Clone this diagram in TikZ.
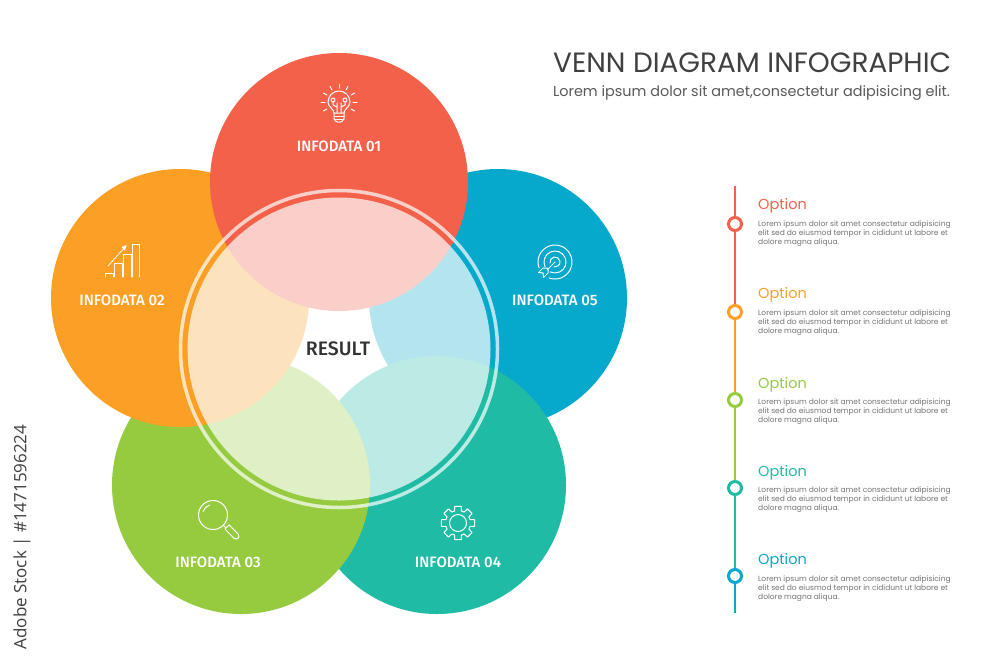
\documentclass[tikz,border=0pt]{standalone}
\usepackage{fontspec}
\setmainfont{Poppins}
\newfontfamily\labelfont[UprightFont=* Medium]{Fira Sans}
\newfontfamily\creditfont{Open Sans}
\usepackage{xcolor}
\usetikzlibrary{calc}
\definecolor{redc}{HTML}{F4614A}
\definecolor{orangec}{HTML}{FB9F25}
\definecolor{greenc}{HTML}{96CB40}
\definecolor{tealc}{HTML}{20BBA5}
\definecolor{bluec}{HTML}{06A8CC}
\tikzstyle{petal}=[
  circle,inner sep=0pt,outer sep=0pt,minimum size=258pt
]
\tikzstyle{info}=[
  text=white,inner sep=0pt,font=\labelfont\fontsize{15}{15}\selectfont
]
\tikzstyle{icon}=[
  draw=white,line width=1pt,line cap=round,line join=round
]
\tikzstyle{stop}=[
  circle,draw,fill=white,line width=3pt,inner sep=0pt,minimum size=13pt
]
\tikzstyle{optionname}=[
  anchor=west,inner sep=0pt,font=\fontsize{14.5}{15}\selectfont
]
\tikzstyle{optiontext}=[
  anchor=north west,inner sep=0pt,text=black!55,align=left,font=\fontsize{7.5}{9}\selectfont
]
\begin{document}
\begin{tikzpicture}[x=1pt,y=-1pt]
  \useasboundingbox (0,0) rectangle (1000,667);
  \fill [white] (0,0) rectangle (1000,667);
  % petals, last one on top
  \node (blue) at (498,298) [petal,fill=bluec] {};
  \node (teal) at (437,485) [petal,fill=tealc] {};
  \node (green) at (241,485) [petal,fill=greenc] {};
  \node (orange) at (180,298) [petal,fill=orangec] {};
  \node (red) at (339,182) [petal,fill=redc] {};
  % middle disc and ring
  \node (disc) at (339,349) [circle,fill=white,fill opacity=0.7,inner sep=0pt,outer sep=0pt,minimum size=303pt] {};
  \node (ring) at (339,349) [circle,draw=white,draw opacity=0.7,line width=3.5pt,inner sep=0pt,minimum size=317pt] {};
  \node (result) at (338,349) [inner sep=0pt,text=black!80,font=\labelfont\fontsize{19.5}{20}\selectfont] {RESULT};
  % labels
  \node (info1) at (339,146) [info] {INFODATA 01};
  \node (info2) at (122,300) [info] {INFODATA 02};
  \node (info3) at (218,562) [info] {INFODATA 03};
  \node (info4) at (458,562) [info] {INFODATA 04};
  \node (info5) at (555,300) [info] {INFODATA 05};
  % bulb
  \begin{scope}[shift={(339,103)}]
    \draw [icon] (-5,10) .. controls (-5,6) and (-11,4) .. (-11,-1) arc (180:360:11) .. controls (11,4) and (5,6) .. (5,10) -- cycle;
    \draw [icon,rounded corners=1pt] (-5,10) -- (-5,16) -- (-2.5,19) -- (2.5,19) -- (5,16) -- (5,10);
    \draw [icon] (-5,13) -- (5,13) (-5,16) -- (5,16);
    \draw [icon] (-2,10) -- (-2,0) (2,10) -- (2,0) (-6,-1) -- (-6,2) -- (-2,4) (6,-1) -- (6,2) -- (2,4);
    \draw [icon] (-6,-3) circle (2) (6,-3) circle (2);
    \foreach \a in {-150,-120,-90,-60,-30,0,30,180,150} {
      \draw [icon] (0,-1) +(\a:14) -- +(\a:18);
    }
  \end{scope}
  % chart
  \draw [icon,line width=0.8pt] (105,277) -- (105,273) -- (113,273) -- (113,277)
    (114,277) -- (114,263) -- (122,263) -- (122,277)
    (123,277) -- (123,254) -- (131,254) -- (131,277)
    (132,277) -- (132,244) -- (139,244) -- (139,277);
  \draw [icon,line width=0.8pt] (108,266) -- (126,246);
  \fill [white] (126.5,245) -- (121.5,247) -- (125,250.5) -- cycle;
  % magnifier
  \draw [icon] (213,515) circle (14.5);
  \draw [icon] (213,515) +(200:10.5) arc (200:250:10.5);
  \draw [icon] (223.3,525.3) -- (225.5,527.5);
  \draw [icon] (229.1,524.9) -- (238.1,533.9) arc (-45:135:3) -- (224.9,529.1) -- cycle;
  % gear
  \draw [icon] (458,523) circle (8.5);
  \draw [icon] ($(458,523)+(-11:17)$)
    \foreach \a in {0,45,...,315} {
      -- ($(458,523)+(\a-11:17)$) -- ($(458,523)+(\a+11:17)$) -- ($(458,523)+(\a+16:12.5)$) -- ($(458,523)+(\a+29:12.5)$)
    } -- cycle;
  % target
  \draw [icon] (555,262) +(160:17) arc (160:470:17);
  \draw [icon] (555,262) +(155:11) arc (155:475:11);
  \draw [icon] (555,262) +(170:5) arc (170:460:5);
  \draw [icon] (555,262) -- (547,270);
  \draw [icon] (547,268) -- (543,268) -- (538.5,272.5) -- (543,273) -- (543.5,277.5) -- (548,273) -- (548,269) -- cycle;
  % title
  \node (title) at (553,63) [anchor=west,inner sep=0pt,text=black!75,font=\fontsize{27.9}{28}\selectfont] {VENN DIAGRAM INFOGRAPHIC};
  \node (subtitle) at (553,93) [anchor=west,inner sep=0pt,text=black!65,font=\fontsize{14.4}{15}\selectfont] {Lorem ipsum dolor sit amet,consectetur adipisicing elit.};
  % options
  \coordinate (top) at (735,186);
  \coordinate (bottom) at (735,613);
  \foreach \n/\y/\o/\t/\c in {1/224/205.5/221/redc,2/312/294.5/310/orangec,3/400/384.5/399/greenc,4/488/472.5/487/tealc,5/576/560.5/576/bluec} {
    \node (stop\n) at (735,\y) [stop,draw=\c] {};
    \node (option\n) at (758,\o) [optionname,text=\c] {Option};
    \node (text\n) at (758,\t) [optiontext] {Lorem ipsum dolor sit amet consectetur adipisicing\\elit sed do eiusmod tempor in cididunt ut labore et\\dolore magna aliqua.};
  }
  \draw [redc,line width=1.5pt] (top) -- (stop1);
  \draw [redc,line width=1.5pt] (stop1) -- (stop2);
  \draw [orangec,line width=1.5pt] (stop2) -- (stop3);
  \draw [greenc,line width=1.5pt] (stop3) -- (stop4);
  \draw [tealc,line width=1.5pt] (stop4) -- (stop5);
  \draw [bluec,line width=1.5pt] (stop5) -- (bottom);
  % credit
  \node (credit) at (22,537) [rotate=90,inner sep=0pt,text=black!75,font=\creditfont\fontsize{17}{17}\selectfont] {Adobe Stock | \#1471596224};
\end{tikzpicture}
\end{document}
